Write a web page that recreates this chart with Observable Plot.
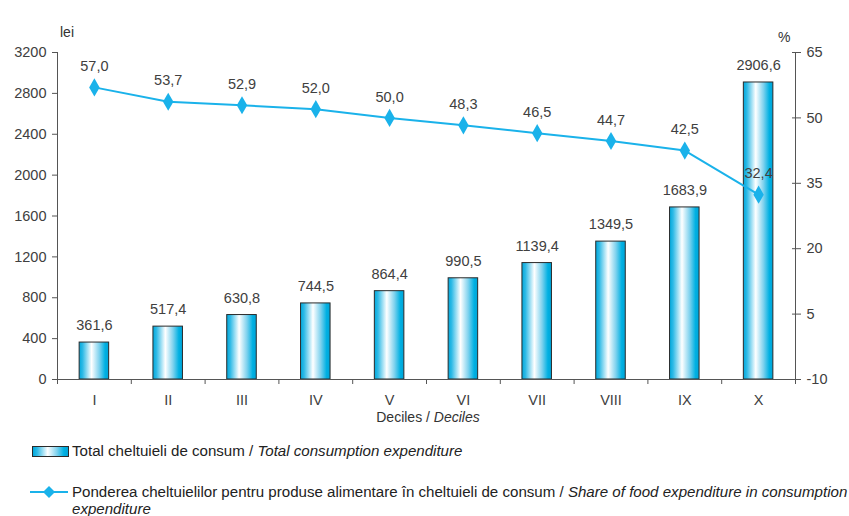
<!DOCTYPE html>
<html>
<head>
<meta charset="utf-8">
<script src="https://cdn.jsdelivr.net/npm/d3@7"></script>
<script src="https://cdn.jsdelivr.net/npm/@observablehq/plot@0.6"></script>
<style>
  html, body { margin: 0; padding: 0; background: #fff; overflow: hidden; }
  #wrap { position: relative; width: 849px; height: 516px; overflow: hidden; font-family: "Liberation Sans", Arial, sans-serif; color: #333; }
  .unit { position: absolute; font-size: 14px; color: #333; }
  .leg { position: absolute; left: 72px; font-size: 15.1px; line-height: 17px; color: #222; white-space: nowrap; }
  .sw { position: absolute; }
  .xlabel { position: absolute; left: 328px; width: 200px; text-align: center; top: 409px; font-size: 14px; color: #333; }
</style>
</head>
<body>
<div id="wrap"></div>
<script>
const deciles = ["I","II","III","IV","V","VI","VII","VIII","IX","X"];
const totalExpenditure = [361.6, 517.4, 630.8, 744.5, 864.4, 990.5, 1139.4, 1349.5, 1683.9, 2906.6];
const foodShare = [57.0, 53.7, 52.9, 52.0, 50.0, 48.3, 46.5, 44.7, 42.5, 32.4];
const leftTicks = [0, 400, 800, 1200, 1600, 2000, 2400, 2800, 3200];
const rightTicks = [-10, 5, 20, 35, 50, 65];

const leftMax = 3200, rightMin = -10, rightMax = 65;
const toLeft = p => (p - rightMin) / (rightMax - rightMin) * leftMax;
const fromLeft = v => v / leftMax * (rightMax - rightMin) + rightMin;
const fmt = v => v.toFixed(1).replace(".", ",");

const data = deciles.map((d, i) => ({decile: d, total: totalExpenditure[i], share: foodShare[i]}));

const W = 849, H = 430, mL = 57, mR = 54, mT = 52, mB = 51;
const half = (W - mL - mR) / deciles.length / 2;
const lineColor = "#1ab2ea";
const axisColor = "#555";
const below = -5 * leftMax / (H - mT - mB);

const chart = Plot.plot({
  width: W, height: H,
  marginLeft: mL, marginRight: mR, marginTop: mT, marginBottom: mB,
  style: {fontFamily: "Liberation Sans, Arial, sans-serif", fontSize: "14.5px", color: "#404040", background: "white"},
  x: {type: "band", domain: deciles, paddingInner: 0.6, paddingOuter: 0.3, round: false, axis: null},
  y: {domain: [0, leftMax], axis: null},
  marks: [
    Plot.barY(data, {x: "decile", y: "total", fill: "url(#barGrad)", stroke: "#2a2a2a", strokeWidth: 1}),
    Plot.ruleY([0], {stroke: axisColor}),
    Plot.ruleX([deciles[0]], {dx: -half, y1: below, y2: leftMax, stroke: axisColor}),
    Plot.ruleX([deciles[deciles.length - 1]], {dx: half, y1: below, y2: leftMax, stroke: axisColor}),
    Plot.ruleX(deciles.slice(1), {dx: -half, y1: below, y2: 0, stroke: axisColor}),
    Plot.axisY(leftTicks, {anchor: "left", tickSize: 5, tickPadding: 6, tickFormat: d => String(d), label: null, stroke: axisColor, fill: "#404040"}),
    Plot.axisY(rightTicks.map(toLeft), {anchor: "right", tickSize: 5, tickPadding: 6, tickFormat: d => String(Math.round(fromLeft(d))), label: null, stroke: axisColor, fill: "#404040"}),
    Plot.axisY(rightTicks.map(toLeft), {anchor: "right", tickSize: -4, tickFormat: () => "", label: null, stroke: axisColor}),
    Plot.text(deciles, {x: d => d, y: 0, dy: 21, text: d => d, fill: "#404040"}),
    Plot.text(data, {x: "decile", y: "total", text: d => fmt(d.total), dy: -17, fill: "#404040"}),
    Plot.line(data, {x: "decile", y: d => toLeft(d.share), stroke: lineColor, strokeWidth: 2}),
    Plot.dot(data, {x: "decile", y: d => toLeft(d.share), symbol: "diamond", fill: lineColor, r: 5.5}),
    Plot.text(data, {x: "decile", y: d => toLeft(d.share), text: d => fmt(d.share), dy: -21, fill: "#404040"})
  ]
});

// gradient definition for bars
const ns = "http://www.w3.org/2000/svg";
const defs = document.createElementNS(ns, "defs");
const grad = document.createElementNS(ns, "linearGradient");
grad.setAttribute("id", "barGrad");
grad.setAttribute("x1", "0"); grad.setAttribute("x2", "1"); grad.setAttribute("y1", "0"); grad.setAttribute("y2", "0");
[["0%", "#00a8dc"], ["12%", "#2ebae6"], ["42%", "#ffffff"], ["68%", "#7fd2ee"], ["88%", "#00b0e2"], ["100%", "#00a4d8"]].forEach(([o, c]) => {
  const s = document.createElementNS(ns, "stop");
  s.setAttribute("offset", o); s.setAttribute("stop-color", c);
  grad.appendChild(s);
});
defs.appendChild(grad);
chart.insertBefore(defs, chart.firstChild);

const wrap = document.getElementById("wrap");
wrap.appendChild(chart);

// unit labels
const lei = document.createElement("div");
lei.className = "unit"; lei.textContent = "lei";
lei.style.left = "60px"; lei.style.top = "24px";
wrap.appendChild(lei);
const pct = document.createElement("div");
pct.className = "unit"; pct.textContent = "%";
pct.style.left = "778px"; pct.style.top = "29px";
wrap.appendChild(pct);

// x axis title
const xl = document.createElement("div");
xl.className = "xlabel";
xl.innerHTML = "Deciles / <i>Deciles</i>";
wrap.appendChild(xl);

// legend
const sw1 = document.createElement("div");
sw1.className = "sw";
Object.assign(sw1.style, {left: "32px", top: "446px", width: "35px", height: "9px", border: "1px solid #2a2a2a",
  background: "linear-gradient(to right, #00a8dc 0%, #2ebae6 12%, #ffffff 42%, #7fd2ee 68%, #00b0e2 88%, #00a4d8 100%)"});
wrap.appendChild(sw1);
const l1 = document.createElement("div");
l1.className = "leg"; l1.style.top = "442px";
l1.innerHTML = "Total cheltuieli de consum / <i>Total consumption expenditure</i>";
wrap.appendChild(l1);

const sw2 = document.createElementNS(ns, "svg");
sw2.setAttribute("width", "40"); sw2.setAttribute("height", "14");
Object.assign(sw2.style, {position: "absolute", left: "29px", top: "485px"});
sw2.innerHTML = `<line x1="1" x2="39" y1="7" y2="7" stroke="${lineColor}" stroke-width="2"/><path d="M20 1 L26 7 L20 13 L14 7 Z" fill="${lineColor}"/>`;
wrap.appendChild(sw2);
const l2 = document.createElement("div");
l2.className = "leg"; l2.style.top = "483px";
l2.innerHTML = "Ponderea cheltuielilor pentru produse alimentare în cheltuieli de consum / <i>Share of food expenditure in consumption</i><br><i>expenditure</i>";
wrap.appendChild(l2);
</script>
</body>
</html>
